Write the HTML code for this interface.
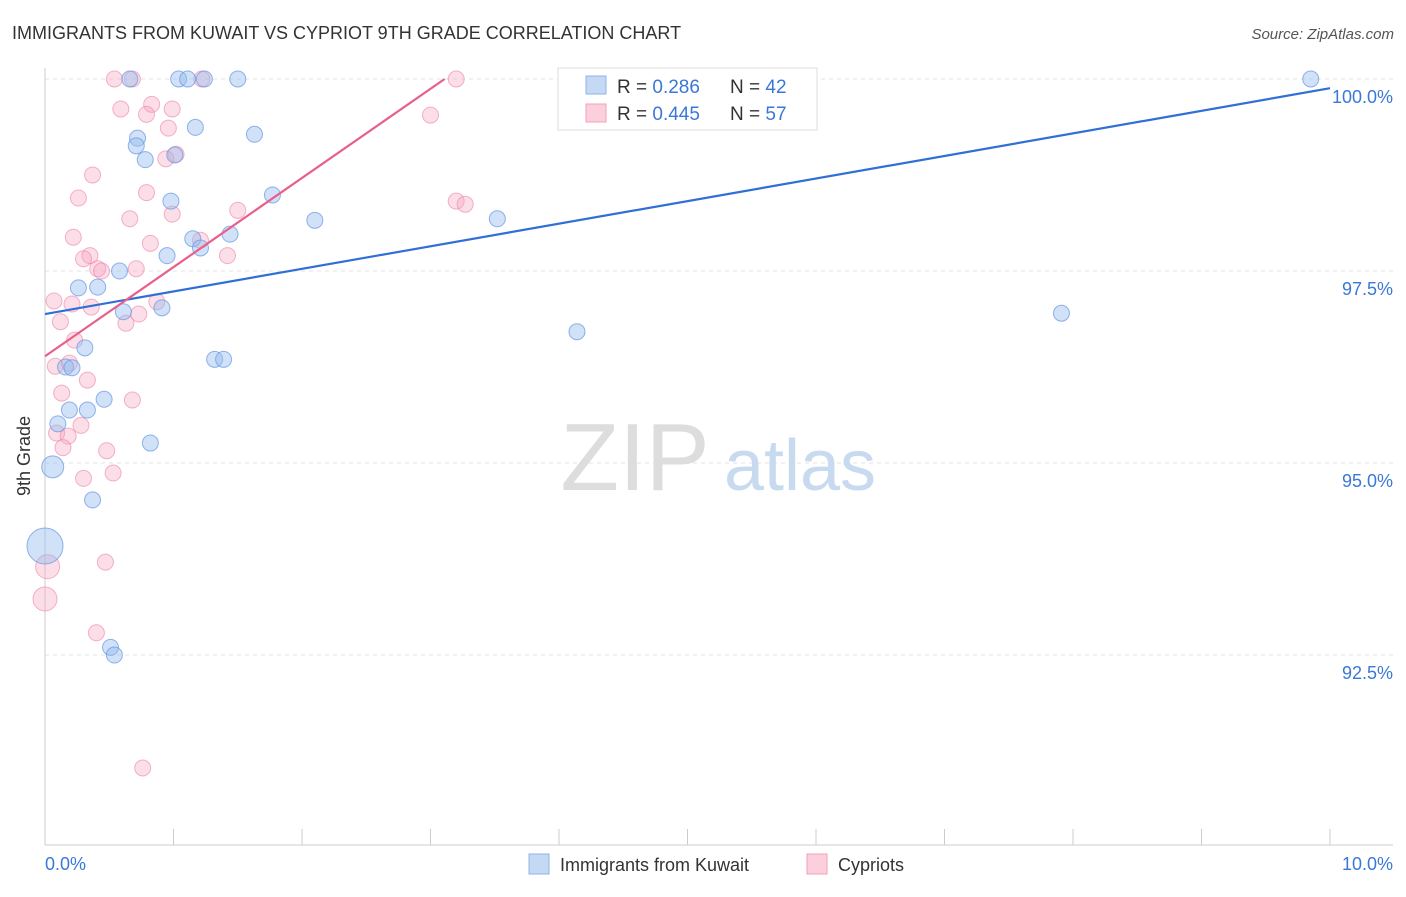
<!DOCTYPE html>
<html><head><meta charset="utf-8"><style>
body{margin:0;background:#fff;font-family:"Liberation Sans",sans-serif;}
svg text{font-family:"Liberation Sans",sans-serif;}
</style></head><body>
<svg id="chart" width="1406" height="892" viewBox="0 0 1406 892" xmlns="http://www.w3.org/2000/svg">
<text x="12" y="39" font-size="18" fill="#333">IMMIGRANTS FROM KUWAIT VS CYPRIOT 9TH GRADE CORRELATION CHART</text>
<text x="1394" y="39" font-size="15" fill="#555" text-anchor="end" font-style="italic">Source: ZipAtlas.com</text>
<g id="grid"></g>
<g>
<text x="635" y="490" font-size="96" fill="#ddd" text-anchor="middle" font-family="Liberation Serif, serif">ZIP</text>
<text x="800" y="490" font-size="72" fill="#c8daf0" text-anchor="middle">atlas</text>
</g>
<line x1="45" y1="68" x2="45" y2="845" stroke="#ccc"/>
<line x1="45" y1="845" x2="1393" y2="845" stroke="#ccc"/>
<text x="30" y="456" font-size="18" fill="#333" text-anchor="middle" transform="rotate(-90 30 456)">9th Grade</text>
<g id="points"></g>
<g id="lines"></g>
<g id="ticks"></g>
<g>
<rect x="558" y="68" width="259" height="62" fill="#fff" stroke="#ddd"/>
<rect x="586" y="76" width="20" height="18" fill="#c5d9f5" stroke="#8fb3e8"/>
<rect x="586" y="104" width="20" height="18" fill="#fbd0dc" stroke="#f0a0b8"/>
<text x="617" y="93" font-size="19" fill="#333">R = <tspan fill="#3a78d8">0.286</tspan></text>
<text x="730" y="93" font-size="19" fill="#333">N = <tspan fill="#3a78d8">42</tspan></text>
<text x="617" y="120" font-size="19" fill="#333">R = <tspan fill="#3a78d8">0.445</tspan></text>
<text x="730" y="120" font-size="19" fill="#333">N = <tspan fill="#3a78d8">57</tspan></text>
</g>
<g>
<rect x="529" y="854" width="20" height="20" fill="#c5d9f5" stroke="#8fb3e8"/>
<text x="560" y="871" font-size="18" fill="#333">Immigrants from Kuwait</text>
<rect x="807" y="854" width="20" height="20" fill="#fbd0dc" stroke="#f0a0b8"/>
<text x="838" y="871" font-size="18" fill="#333">Cypriots</text>
</g>
</svg>
<script>
const yTicks=[100,97.5,95,92.5];
const yTickLabels=["100.0%","97.5%","95.0%","92.5%"];
const xTickLabels=["0.0%","10.0%"];
const kuwaitX=[0.66,1.04,1.11,1.24,1.50,9.85,1.17,1.63,0.72,0.71,0.78,1.01,0.98,1.77,2.10,3.52,1.15,1.44,1.21,0.95,0.58,0.26,0.41,0.91,0.61,4.14,7.91,0.31,0.16,0.21,1.32,1.39,0.46,0.19,0.33,0.10,0.82,0.06,0.37,0.51,0.54,0.0];
const kuwaitY=[100,100,100,100,100,100,99.37,99.28,99.23,99.13,98.95,99.01,98.41,98.49,98.16,98.18,97.92,97.98,97.80,97.70,97.50,97.28,97.29,97.02,96.97,96.71,96.95,96.50,96.25,96.24,96.35,96.35,95.83,95.69,95.69,95.51,95.26,94.95,94.52,92.60,92.50,93.92];
const kuwaitR=[8,8,8,8,8,8,8,8,8,8,8,8,8,8,8,8,8,8,8,8,8,8,8,8,8,8,8,8,8,8,8,8,8,8,8,8,8,11,8,8,8,18];
const cyprX=[0.54,0.68,1.22,3.20,0.59,0.83,0.99,0.79,3.00,0.96,1.02,0.94,0.37,0.26,0.79,1.50,0.99,0.66,3.20,3.27,0.22,0.82,1.21,0.35,0.30,1.42,0.41,0.44,0.71,0.07,0.21,0.36,0.87,0.73,0.12,0.63,0.23,0.19,0.08,0.33,0.13,0.68,0.28,0.09,0.18,0.14,0.48,0.53,0.30,0.02,0.0,0.47,0.40,0.76];
const cyprY=[100,100,100,100,99.61,99.67,99.61,99.54,99.53,99.36,99.02,98.96,98.75,98.45,98.52,98.29,98.24,98.18,98.41,98.37,97.94,97.86,97.90,97.70,97.66,97.70,97.53,97.50,97.53,97.11,97.07,97.03,97.10,96.94,96.84,96.82,96.60,96.30,96.26,96.08,95.91,95.82,95.49,95.39,95.35,95.20,95.16,94.87,94.80,93.65,93.23,93.71,92.79,91.03];
const cyprR=[8,8,8,8,8,8,8,8,8,8,8,8,8,8,8,8,8,8,8,8,8,8,8,8,8,8,8,8,8,8,8,8,8,8,8,8,8,8,8,8,8,8,8,8,8,8,8,8,8,12,12,8,8,8];
const kuwaitLine=[[0,96.94],[10,99.88]];
const cyprLine=[[0,96.39],[3.11,100]];
const NS="http://www.w3.org/2000/svg";
const xs=v=>45+v*128.5;
const ys=v=>79+(100-v)/0.01302;
function mk(tag,attrs,parent){const e=document.createElementNS(NS,tag);for(const k in attrs)e.setAttribute(k,attrs[k]);document.getElementById(parent).appendChild(e);return e;}
yTicks.forEach((t,i)=>{
 const l=mk('line',{x1:45,x2:1393,y1:ys(t),y2:ys(t),stroke:'#e3e3e3','stroke-dasharray':'4,4'},'grid');
 
 
 const tx=mk('text',{x:1393,y:ys(t)+24,'font-size':18,fill:'#3a78d8','text-anchor':'end'},'ticks');
 tx.textContent=yTickLabels[i];
 
 
});
for(let i=0;i<=10;i++){
 const l=mk('line',{x1:xs(i),x2:xs(i),y1:829,y2:845,stroke:'#ccc'},'ticks');
 
 
}
[[0,'start',45],[10,'end',1393]].forEach((a,i)=>{
 const tx=mk('text',{x:a[2],y:870,'font-size':18,fill:'#3a78d8','text-anchor':a[1]},'ticks');
 tx.textContent=xTickLabels[i];
 
 
});
cyprX.forEach((x,i)=>{
 const c=mk('circle',{cx:xs(x),cy:ys(cyprY[i]),r:cyprR[i],fill:'rgba(246,160,188,0.35)',stroke:'rgba(236,130,165,0.6)'},'points');
 
 
});
kuwaitX.forEach((x,i)=>{
 const c=mk('circle',{cx:xs(x),cy:ys(kuwaitY[i]),r:kuwaitR[i],fill:'rgba(150,188,240,0.45)',stroke:'rgba(100,150,225,0.7)'},'points');
 
 
});
const bl=mk('line',{x1:xs(kuwaitLine[0][0]),y1:ys(kuwaitLine[0][1]),x2:xs(kuwaitLine[1][0]),y2:ys(kuwaitLine[1][1]),stroke:'#2f6fd6','stroke-width':2.2},'lines');


const pl=mk('line',{x1:xs(cyprLine[0][0]),y1:ys(cyprLine[0][1]),x2:xs(cyprLine[1][0]),y2:ys(cyprLine[1][1]),stroke:'#e8608a','stroke-width':2.2},'lines');


</script>
</body></html>
